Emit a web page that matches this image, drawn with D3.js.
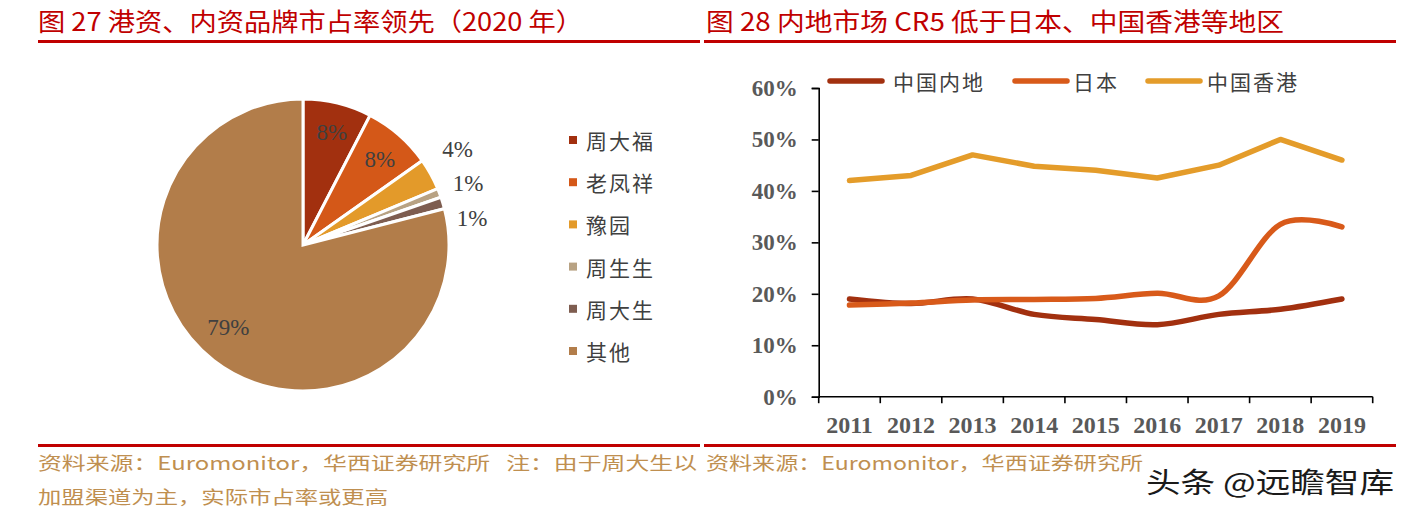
<!DOCTYPE html>
<html><head><meta charset="utf-8">
<script src="https://cdn.jsdelivr.net/npm/d3@7"></script>
<style>
body{margin:0;background:#fff;}
svg{display:block;}
text{white-space:pre;}
</style></head>
<body>
<svg id="c" width="1417" height="522"></svg>
<script>
// ---- data ----
const pieCategories = ["周大福","老凤祥","豫园","周生生","周大生","其他"];
const pieValues = [7.6, 7.6, 3.5, 1.0, 1.3, 79.0];
const pieLabels = ["8%","8%","4%","1%","1%","79%"];
const pieColors = ["#A2300F","#D45818","#E39A2A","#B8A283","#7E5D50","#B27D4A"];

const years = ["2011","2012","2013","2014","2015","2016","2017","2018","2019"];
const seriesNames = ["中国内地","日本","中国香港"];
const mainland = [19.0, 18.1, 19.0, 16.0, 15.0, 14.0, 16.0, 17.0, 19.0];
const japan = [17.8, 18.2, 18.8, 18.9, 19.1, 20.1, 19.6, 33.5, 33.0];
const hongkong = [42.0, 43.0, 47.0, 44.8, 44.0, 42.5, 45.0, 50.0, 46.0];
const lineColors = ["#A2300F","#D85A1A","#E49C2A"];
const yTicks = [0,10,20,30,40,50,60];

const svg = d3.select("#c");
const CJK = "'Noto Sans CJK SC','Noto Sans',sans-serif";
const SERIF = "'Liberation Serif','DejaVu Serif',serif";

// ---- titles & rules ----
svg.append("text").attr("x",38).attr("y",31).attr("fill","#C00000")
  .attr("font-family",CJK).attr("font-size",25)
  .attr("textLength",545).attr("lengthAdjust","spacingAndGlyphs")
  .text("图 27 港资、内资品牌市占率领先（2020 年）");
svg.append("text").attr("x",706).attr("y",31).attr("fill","#C00000")
  .attr("font-family",CJK).attr("font-size",25)
  .attr("textLength",578).attr("lengthAdjust","spacingAndGlyphs")
  .text("图 28 内地市场 CR5 低于日本、中国香港等地区");
[[38,700],[704,1396]].forEach(([a,b])=>{
  svg.append("rect").attr("x",a).attr("y",40).attr("width",b-a).attr("height",3).attr("fill","#C00000");
  svg.append("rect").attr("x",a).attr("y",444).attr("width",b-a).attr("height",3).attr("fill","#C00000");
});

// ---- pie ----
const cx = 303, cy = 245, R = 146;
const pie = d3.pie().sort(null).value(d=>d);
const arcs = pie(pieValues);
const arc = d3.arc().innerRadius(0).outerRadius(R);
const gp = svg.append("g").attr("transform",`translate(${cx},${cy})`);
gp.selectAll("path").data(arcs).enter().append("path")
  .attr("d",arc).attr("fill",(d,i)=>pieColors[i])
  .attr("stroke","#fff").attr("stroke-width",3).attr("stroke-linejoin","miter");
// labels: inside for big slices, outside for small ones
const labelArcIn = d3.arc().innerRadius(R*0.78).outerRadius(R*0.78);
const labelArcOut = d3.arc().innerRadius(R*1.18).outerRadius(R*1.18);
const labelShift = [[2,-2],[2,0],[4,-12],[4,0],[4,23],[-5,-7]];
const labelPos = arcs.map((d,i)=>{
  const c = (i<2 || i===5) ? labelArcIn.centroid(d) : labelArcOut.centroid(d);
  return [c[0]+labelShift[i][0], c[1]+labelShift[i][1]];
});
gp.selectAll("text.pl").data(arcs).enter().append("text").attr("class","pl")
  .attr("x",(d,i)=>labelPos[i][0]).attr("y",(d,i)=>labelPos[i][1])
  .attr("text-anchor","middle").attr("dominant-baseline","central")
  .attr("font-family",SERIF).attr("font-size",23).attr("fill","#404040")
  .text((d,i)=>pieLabels[i]);

// pie legend
const ly = d3.scalePoint().domain(pieCategories).range([140,351]);
const gl = svg.append("g");
pieCategories.forEach((c,i)=>{
  gl.append("rect").attr("x",569).attr("y",ly(c)-4).attr("width",8).attr("height",8).attr("fill",pieColors[i]);
  gl.append("text").attr("x",586).attr("y",ly(c)).attr("dominant-baseline","central")
    .attr("font-family",CJK).attr("font-size",21).attr("letter-spacing",2).attr("fill","#404040").text(c);
});

// ---- line chart ----
const x = d3.scaleBand().domain(years).range([818.7,1372.7]).padding(0);
const y = d3.scaleLinear().domain([0,60]).range([396.7,88]);
const gx = svg.append("g").attr("transform","translate(0,396.7)");
gx.append("line").attr("x1",x.range()[0]).attr("x2",x.range()[1]).attr("stroke","#000").attr("stroke-width",1.6);
const edges = years.map(v=>x(v)).concat([x.range()[1]]);
gx.selectAll("line.t").data(edges).enter().append("line").attr("class","t")
  .attr("x1",d=>d).attr("x2",d=>d).attr("y1",0).attr("y2",6.5).attr("stroke","#000").attr("stroke-width",1.6);
gx.selectAll("text").data(years).enter().append("text")
  .attr("x",d=>x(d)+x.bandwidth()/2).attr("y",36).attr("text-anchor","middle")
  .attr("font-family",SERIF).attr("font-weight","bold").attr("font-size",24).attr("fill","#595959").text(d=>d);

const yAxis = d3.axisLeft(y).tickValues(yTicks).tickSize(7).tickPadding(14).tickFormat(d=>d+"%");
const gy = svg.append("g").attr("transform","translate(818.7,0)").call(yAxis);
gy.select(".domain").attr("stroke","#000").attr("stroke-width",1.6);
gy.selectAll(".tick line").attr("stroke","#000").attr("stroke-width",1.6);
gy.selectAll(".tick text").attr("font-family",SERIF).attr("font-weight","bold")
  .attr("font-size",23).attr("fill","#595959");

const cx2 = d=>x(d)+x.bandwidth()/2;
const smooth = d3.line().x((d,i)=>cx2(years[i])).y(d=>y(d)).curve(d3.curveCardinal.tension(0));
const straight = d3.line().x((d,i)=>cx2(years[i])).y(d=>y(d)).curve(d3.curveLinear);
const series = [mainland, japan, hongkong];
const gens = [smooth, smooth, straight];
const order = [2,0,1];
order.forEach(i=>{
  svg.append("path").attr("d",gens[i](series[i])).attr("fill","none")
    .attr("stroke",lineColors[i]).attr("stroke-width",5.5)
    .attr("stroke-linecap","round").attr("stroke-linejoin","round");
});

// line legend
const legX = [[830,893],[1015,1073],[1148,1207]];
seriesNames.forEach((s,i)=>{
  svg.append("line").attr("x1",legX[i][0]).attr("x2",legX[i][0]+52).attr("y1",81).attr("y2",81)
    .attr("stroke",lineColors[i]).attr("stroke-width",5.5).attr("stroke-linecap","round");
  svg.append("text").attr("x",legX[i][1]).attr("y",81).attr("dominant-baseline","central")
    .attr("font-family",CJK).attr("font-size",21).attr("letter-spacing",2).attr("fill","#404040").text(s);
});

// ---- footers ----
const foot = "#BF8F50";
svg.append("text").attr("x",38).attr("y",470).attr("fill",foot).attr("font-family",CJK).attr("font-size",18)
  .attr("textLength",659).attr("lengthAdjust","spacingAndGlyphs")
  .text("资料来源：Euromonitor，华西证券研究所\u00A0\u00A0\u00A0注：由于周大生以");
svg.append("text").attr("x",38).attr("y",504).attr("fill",foot).attr("font-family",CJK).attr("font-size",18)
  .attr("textLength",350).attr("lengthAdjust","spacingAndGlyphs")
  .text("加盟渠道为主，实际市占率或更高");
svg.append("text").attr("x",706).attr("y",470).attr("fill",foot).attr("font-family",CJK).attr("font-size",18)
  .attr("textLength",437).attr("lengthAdjust","spacingAndGlyphs")
  .text("资料来源：Euromonitor，华西证券研究所");
svg.append("text").attr("x",1146).attr("y",493).attr("fill","#1a1a1a").attr("font-family",CJK).attr("font-size",28)
  .attr("stroke","#fff").attr("stroke-width",0.6).attr("paint-order","stroke")
  .attr("textLength",248).attr("lengthAdjust","spacingAndGlyphs")
  .text("头条 @远瞻智库");
</script>
</body></html>
